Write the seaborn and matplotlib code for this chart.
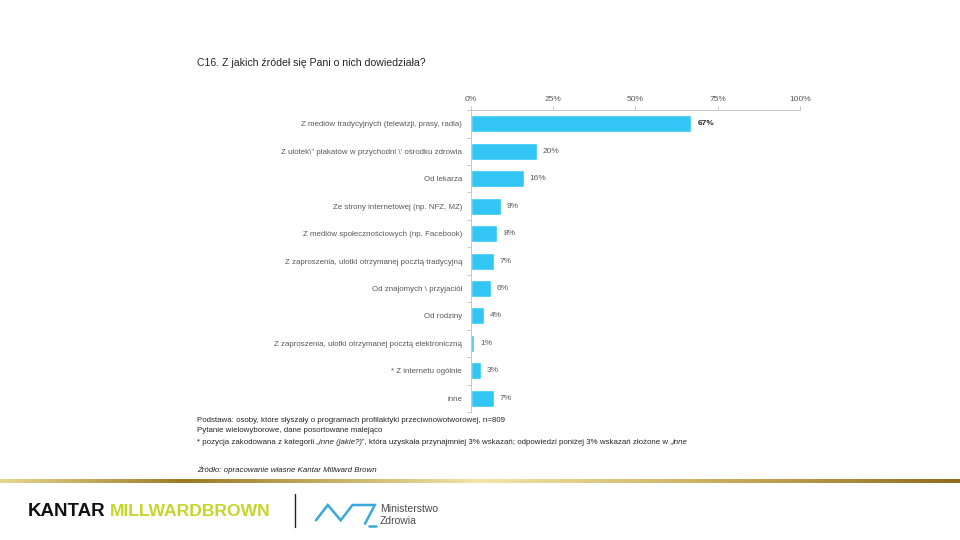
import numpy as np
import pandas as pd
import seaborn as sns
import matplotlib.pyplot as plt
from matplotlib.colors import LinearSegmentedColormap
from matplotlib.lines import Line2D

# data
categories = [
    'Z mediów tradycyjnych (telewizji, prasy, radia)',
    'Z ulotek\\" plakatów w przychodni \\\' ośrodku zdrowia',
    'Od lekarza',
    'Ze strony internetowej (np. NFZ, MZ)',
    'Z mediów społecznościowych (np. Facebook)',
    'Z zaproszenia, ulotki otrzymanej pocztą tradycyjną',
    'Od znajomych \\ przyjaciół',
    'Od rodziny',
    'Z zaproszenia, ulotki otrzymanej pocztą elektroniczną',
    '* Z internetu ogólnie',
    'inne',
]
percent = [67, 20, 16, 9, 8, 7, 6, 4, 1, 3, 7]
x_ticks = [0, 25, 50, 75, 100]
x_tick_labels = ['0%', '25%', '50%', '75%', '100%']

df = pd.DataFrame({'source': categories, 'percent': percent})

sns.set_theme(style='white')
plt.rcParams['font.family'] = ['Liberation Sans', 'DejaVu Sans']

grey = '#595959'
dark = '#262626'
bar_color = '#33C6F4'

fig = plt.figure(figsize=(9.6, 5.4), dpi=100)
ax = fig.add_axes([0.4906, 0.237, 0.3427, 0.559])

sns.barplot(data=df, x='percent', y='source', orient='h', color=bar_color,
            width=0.62, saturation=1, ax=ax)

ax.set_xlim(0, 100)
ax.set_xticks(x_ticks)
ax.set_xticklabels(x_tick_labels)
ax.xaxis.tick_top()
ax.set_xlabel('')
ax.set_ylabel('')
ax.tick_params(axis='x', top=True, length=3, width=0.6, color='#BFBFBF',
               labelsize=6, labelcolor=grey, pad=2)
ax.tick_params(axis='y', left=False, length=0, labelsize=5.7,
               labelcolor=grey, pad=6.5)
# small ticks on the category boundaries
ax.set_yticks(np.arange(len(categories) + 1) - 0.5, minor=True)
ax.tick_params(axis='y', which='minor', left=True, length=3, width=0.6,
               color='#BFBFBF')
for side in ['right', 'bottom']:
    ax.spines[side].set_visible(False)
for side in ['top', 'left']:
    ax.spines[side].set_color('#BFBFBF')
    ax.spines[side].set_linewidth(0.6)

for i, v in enumerate(percent):
    ax.text(v + 1.8, i, f'{v}%', va='center', ha='left', fontsize=6,
            color=dark if i == 0 else grey,
            fontweight='bold' if i == 0 else 'normal')

# title
fig.text(0.205, 0.883, 'C16. Z jakich źródeł się Pani o nich dowiedziała?',
         fontsize=7.6, color=dark, va='center')

# notes
fs = 5.7
fig.text(0.205, 0.222, 'Podstawa: osoby, które słyszały o programach profilaktyki przeciwnowotworowej, n=809',
         fontsize=fs, color=dark, va='center')
fig.text(0.205, 0.202, 'Pytanie wielowyborowe, dane posortowane malejąco',
         fontsize=fs, color=dark, va='center')
t = fig.text(0.205, 0.174, '* pozycja zakodowana z kategorii „', fontsize=fs,
             color=dark, va='bottom')
parts = [('inne (jakie?)', 'italic'),
         ('”, która uzyskała przynajmniej 3% wskazań; odpowiedzi poniżej 3% wskazań złożone w „', 'normal'),
         ('inne', 'italic')]
for txt, style in parts:
    t = ax.annotate(txt, xy=(1, 0), xycoords=t, va='bottom', ha='left',
                    fontsize=fs, color=dark, style=style)
fig.text(0.205, 0.131, 'Źródło: opracowanie własne Kantar Millward Brown',
         fontsize=fs, color=dark, style='italic', va='center')

# gold rule across the page
gold = LinearSegmentedColormap.from_list('gold', [
    (0.0, '#E8D690'), (0.19, '#9A7A24'), (0.5, '#F3E4A8'),
    (0.76, '#C8AB5A'), (1.0, '#8E6E1E')])
band = fig.add_axes([0, 1 - 483 / 540, 1, 4 / 540])
band.imshow(np.linspace(0, 1, 512)[None, :], aspect='auto', cmap=gold)
band.set_axis_off()

# footer logos
fig.text(28 / 960, 1 - 511 / 540, 'KANTAR', fontsize=13.5, fontweight='bold',
         color='#111111', va='center', ha='left')
fig.text(110 / 960, 1 - 511 / 540, 'MILLWARDBROWN', fontsize=12.6,
         fontweight='bold', color='#C6D52A', va='center', ha='left')
fig.add_artist(Line2D([295 / 960, 295 / 960], [1 - 494 / 540, 1 - 527 / 540],
                      color='#222222', lw=1))
zig_x = [316, 327.8, 340.7, 352.5, 374.8, 365]
zig_y = [520.3, 505, 520.3, 505, 505, 523.7]
fig.add_artist(Line2D([x / 960 for x in zig_x], [1 - y / 540 for y in zig_y],
                      color='#3AA9D9', lw=1.8, solid_joinstyle='miter'))
fig.add_artist(Line2D([369 / 960, 376 / 960], [1 - 526 / 540, 1 - 526 / 540],
                      color='#3AA9D9', lw=1.8))
fig.text(380 / 960, 1 - 509 / 540, 'Ministerstwo', fontsize=7.5,
         color='#4A4A4A', va='center', ha='left')
fig.text(380 / 960, 1 - 521 / 540, 'Zdrowia', fontsize=7.5,
         color='#4A4A4A', va='center', ha='left')

fig.savefig('out.png', dpi=100)
